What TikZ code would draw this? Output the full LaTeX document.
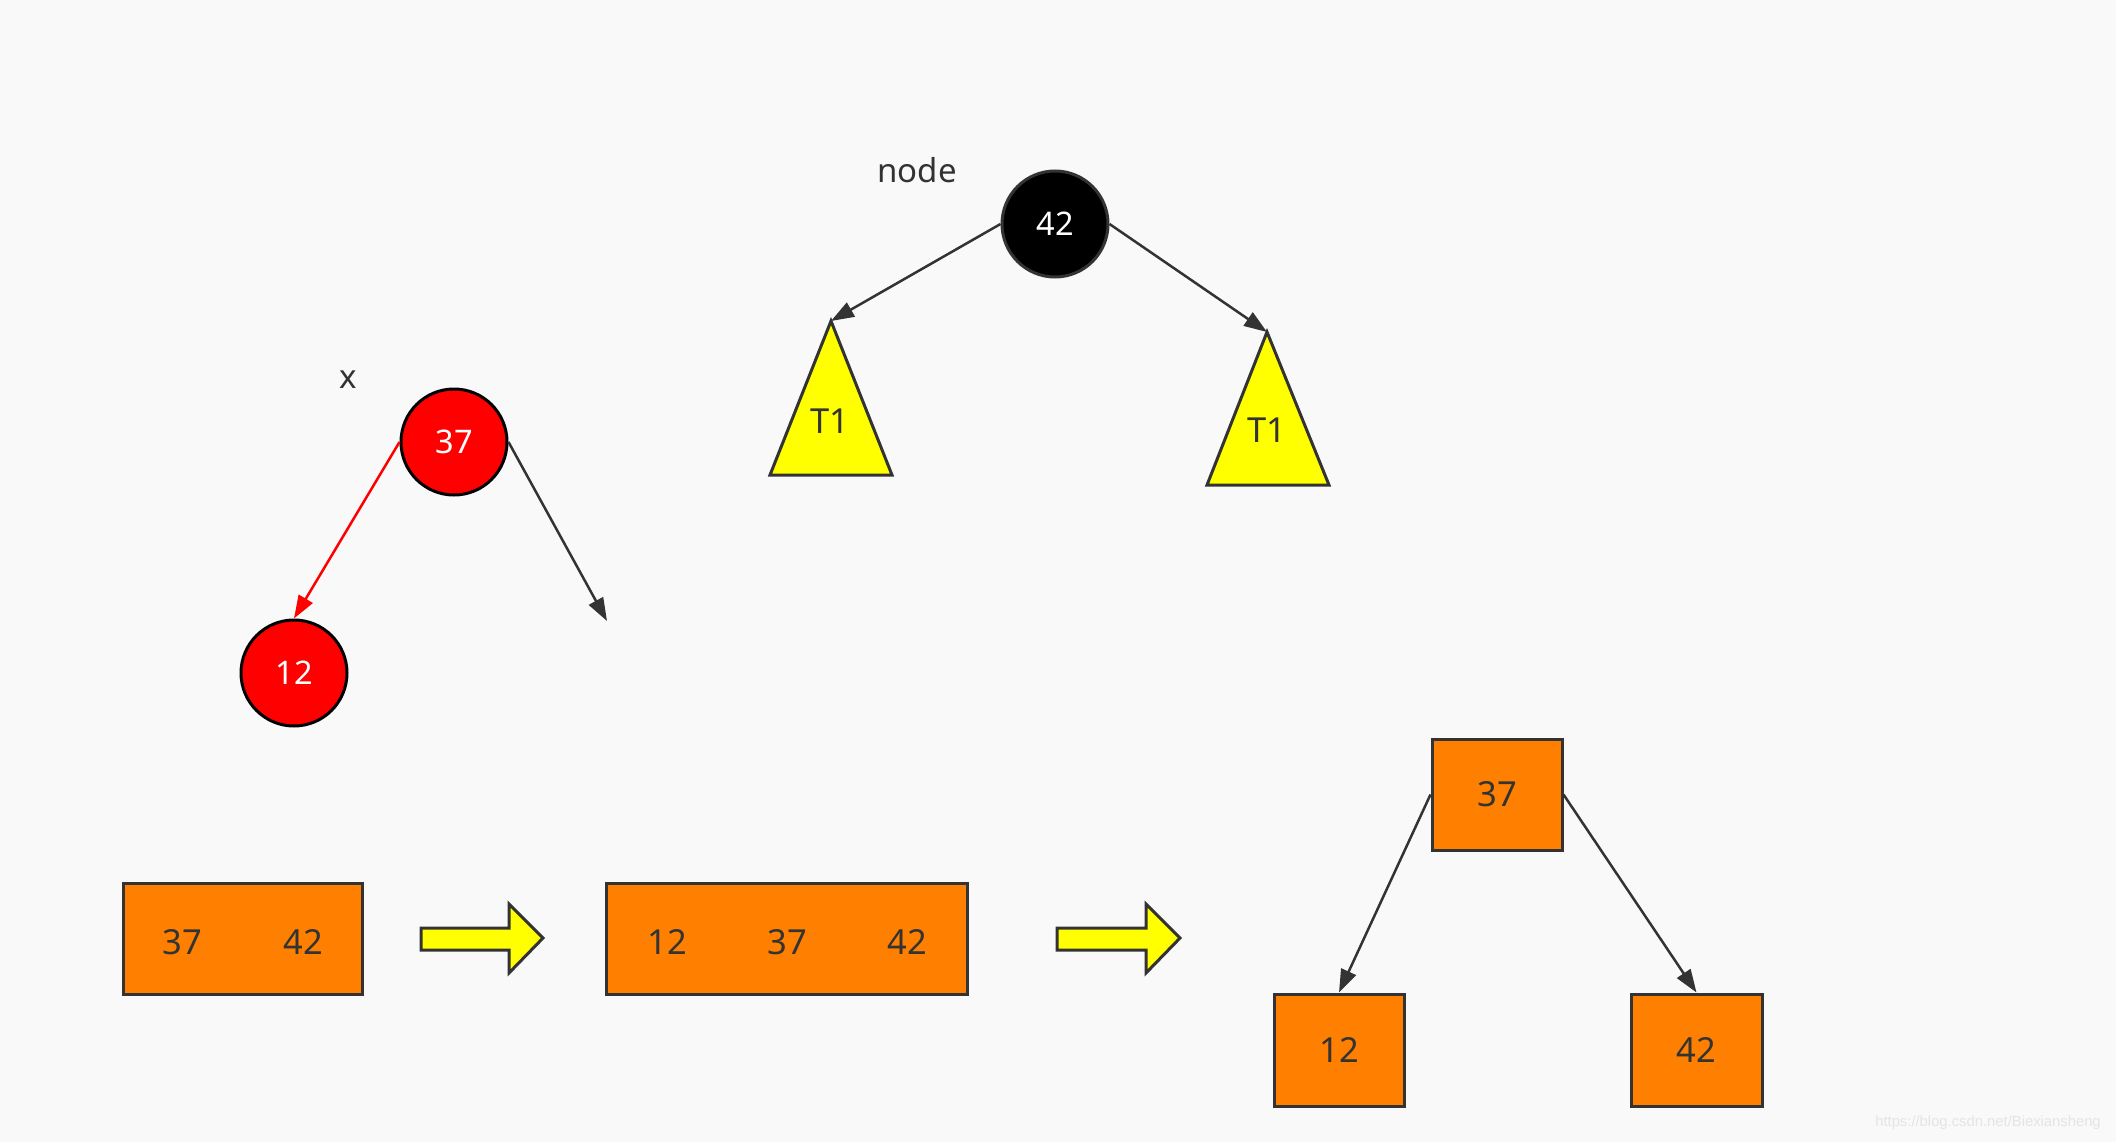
\documentclass[tikz,border=0pt]{standalone}
\usepackage{fontspec}
\setmainfont{Noto Sans}
\newfontfamily\wmfont{Liberation Sans}
\usetikzlibrary{arrows.meta}
\definecolor{bg}{HTML}{F9F9F9}
\definecolor{ln}{HTML}{333333}
\definecolor{org}{HTML}{FF8000}
\definecolor{yel}{HTML}{FFFF00}
\definecolor{rd}{HTML}{FF0000}
\definecolor{wm}{HTML}{E4E4E4}
\begin{document}
\begin{tikzpicture}[x=1pt,y=-1pt,
  txt/.style={font=\fontsize{33}{40}\selectfont, text=ln, inner sep=0pt},
  btxt/.style={font=\fontsize{34.5}{40}\selectfont, text=ln, inner sep=0pt},
  rbnode/.style={circle, minimum size=106pt, inner sep=0pt, line width=3pt, font=\fontsize{32.5}{38}\selectfont, text=white},
  box/.style={draw=ln, fill=org, line width=3pt, inner sep=0pt},
  tri/.style={draw=ln, fill=yel, line width=3pt, line join=miter},
  conn/.style={draw=ln, line width=2.5pt, -{Triangle[length=23pt,width=16pt]}},
  redconn/.style={draw=rd, line width=2.5pt, -{Triangle[length=23pt,width=16pt]}},
  fat/.style={draw=ln, fill=yel, line width=3pt, line join=miter}
]
\fill[bg] (0,0) rectangle (2116,1142);
\useasboundingbox (0,0) rectangle (2116,1142);

% top: node 42 with two subtrees
\node[txt] (lblnode) at (917,170) {node};
\node[rbnode, draw=ln, fill=black] (n42) at (1055,224) {42};
\draw[tri] (831,321) -- (892,475) -- (770,475) -- cycle;
\coordinate (tlapex) at (831,321);
\node[btxt] (tlT) at (830,421) {T1};
\draw[tri] (1267,332) -- (1329,485) -- (1207,485) -- cycle;
\coordinate (trapex) at (1267,332);
\node[btxt] (trT) at (1267,430) {T1};
\draw[conn] (n42.west) -- (tlapex);
\draw[conn] (n42.east) -- (trapex);

% left: x = 37 with red child 12
\node[txt] (lblx) at (348,380) {x};
\node[rbnode, draw=black, fill=rd] (n37) at (454,442) {37};
\node[rbnode, draw=black, fill=rd] (n12) at (294,673) {12};
\coordinate (nullend) at (607,621);
\draw[redconn] (n37.west) -- (n12.north);
\draw[conn] (n37.east) -- (nullend);

% bottom: 4-node split
\node[box, minimum width=239pt, minimum height=111pt] (b1) at (242.5,938.5) {};
\node[btxt] (b1a) at (182,942) {37};
\node[btxt] (b1b) at (303,942) {42};

\draw[fat] (421,928) -- (509,928) -- (509,904) -- (543,938) -- (509,973) -- (509,950) -- (421,950) -- cycle;

\node[box, minimum width=361pt, minimum height=111pt] (b2) at (786.5,938.5) {};
\node[btxt] (b2a) at (667,942) {12};
\node[btxt] (b2b) at (787,942) {37};
\node[btxt] (b2c) at (907,942) {42};

\draw[fat] (1057,928) -- (1146,928) -- (1146,904) -- (1180,938) -- (1146,973) -- (1146,950) -- (1057,950) -- cycle;

\node[box, minimum width=130pt, minimum height=111pt, btxt] (t37) at (1497,794.5) {37};
\node[box, minimum width=130pt, minimum height=112pt, btxt] (t12) at (1339,1050) {12};
\node[box, minimum width=131pt, minimum height=112pt, btxt] (t42) at (1696.5,1050) {42};
\draw[conn] (t37.west) -- (t12.north);
\draw[conn] (t37.east) -- (t42.north);

\node[font=\wmfont\fontsize{14.8}{17}\selectfont, text=wm, inner sep=0pt] (wmk) at (1988,1123) {https://blog.csdn.net/Biexiansheng};
\end{tikzpicture}
\end{document}
